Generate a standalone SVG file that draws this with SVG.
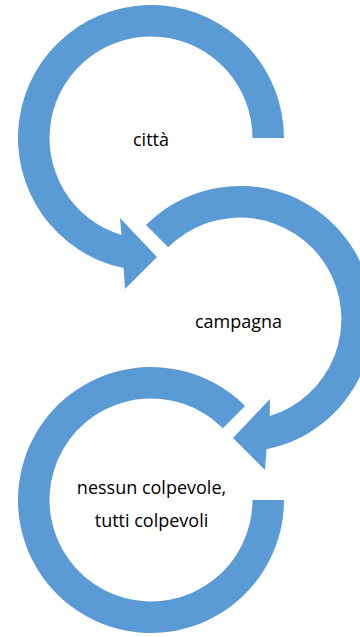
<svg xmlns="http://www.w3.org/2000/svg" width="360" height="637" viewBox="0 0 360 637">
<style>
.arrow{fill:#5B9BD5;stroke:none}
.lbl{font-family:"Open Sans","Noto Sans",sans-serif;font-size:18px;fill:#000;text-anchor:middle}
</style>
<rect width="360" height="637" fill="#fff"/>
<g id="connectors"></g>
<g id="node-citta">
<path class="arrow" d="M 284,138 A 133 133 0 1 0 123.6,268.1 L 125,289 L 157,257 L 120,218 L 121.5,235.1 A 101.5 101.5 0 1 1 252.5,138 Z"/>
<text class="lbl" x="151" y="146">città</text>
</g>
<g id="node-campagna">
<path class="arrow" d="M 146,225 A 133 133 0 1 1 266.5,449.3 L 265,470 L 233,438 L 270,399 L 269.7,416.1 A 101.5 101.5 0 1 0 168.2,247.2 Z"/>
<text class="lbl" x="238.5" y="328">campagna</text>
</g>
<g id="node-colpevoli">
<path class="arrow" d="M 245.05,405.95 A 133 133 0 1 0 284,500 L 252.5,500 A 101.5 101.5 0 1 1 222.8,428.2 Z"/>
<text class="lbl" x="151.5" y="494">nessun colpevole,</text>
<text class="lbl" x="151.5" y="527">tutti colpevoli</text>
</g>
</svg>
